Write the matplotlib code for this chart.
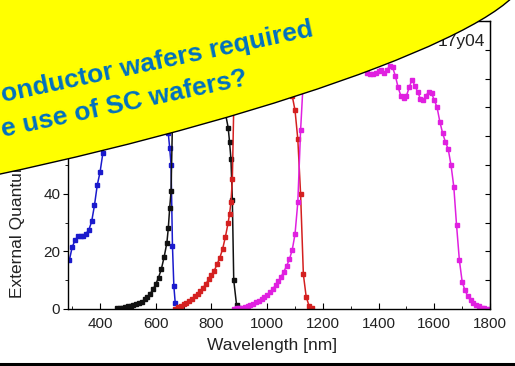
import matplotlib
matplotlib.use("Agg")
import matplotlib.pyplot as plt
from matplotlib.patches import Ellipse
from matplotlib.lines import Line2D
from matplotlib.transforms import IdentityTransform
from matplotlib.ticker import MultipleLocator

# EQE curves of the four sub-cells (wavelength in nm, EQE in %)
blue_wl = [290, 300, 310, 320, 330, 340, 350, 360, 370, 380, 390, 400, 410, 420, 430, 440,
           450, 460, 470, 480, 490, 500, 510, 520, 530, 540, 550, 560, 570, 580, 590, 600,
           610, 620, 630, 640, 645, 650, 655, 660, 665, 670, 680]
blue_eqe = [17, 21.5, 23.8, 25.2, 25.4, 25.2, 26.2, 27.5, 30.4, 36, 43, 47.5, 54, 60, 65, 69,
            72.5, 75, 77.5, 79.5, 81, 82, 83, 84, 84.5, 85, 85.5, 86, 86, 86, 85.5, 85,
            84, 82, 78, 68, 61, 56, 50, 22, 8, 2, 0.3]

black_wl = [460, 470, 480, 490, 500, 510, 520, 530, 540, 550, 560, 570, 580, 590, 600, 610,
            620, 630, 640, 645, 650, 655, 660, 665, 670, 680, 700, 720, 740, 760, 780, 800,
            820, 840, 850, 860, 865, 870, 875, 880, 890, 900]
black_eqe = [0.3, 0.4, 0.5, 0.7, 0.9, 1.1, 1.4, 1.7, 2.1, 2.6, 3.3, 4.2, 5.3, 6.8, 8.6, 10.9,
             13.8, 18, 23, 28, 35, 41, 65, 78, 83, 85, 86, 86, 86, 85, 84, 82,
             78, 72, 68, 63, 58, 52, 38, 10, 1.5, 0.2]

red_wl = [670, 680, 690, 700, 710, 720, 730, 740, 750, 760, 770, 780, 790, 800, 810, 820,
          830, 840, 850, 860, 865, 870, 875, 880, 890, 900, 920, 940, 960, 980, 1000, 1020,
          1040, 1060, 1080, 1090, 1100, 1110, 1120, 1130, 1140, 1150, 1160]
red_eqe = [0, 0.6, 1.1, 1.6, 2.2, 2.9, 3.6, 4.4, 5.3, 6.3, 7.4, 8.7, 10.3, 11.8, 13.3, 15.5,
           17.8, 20.8, 25, 30, 33, 37, 45, 70, 78, 82, 85, 87, 88, 88, 88, 87,
           85, 82, 78, 74, 69, 59, 40, 12, 4.3, 1.2, 0.2]

magenta_wl = [880, 890, 900, 910, 920, 930, 940, 950, 960, 970, 980, 990, 1000, 1010, 1020,
              1030, 1040, 1050, 1060, 1070, 1080, 1090, 1100, 1110, 1120, 1130, 1140, 1160,
              1180, 1200, 1220, 1240, 1260, 1280, 1300, 1320, 1340, 1360, 1370, 1380, 1390,
              1400, 1410, 1420, 1430, 1440, 1450, 1460, 1470, 1480, 1490, 1500, 1510, 1520,
              1530, 1540, 1550, 1560, 1570, 1580, 1590, 1600, 1610, 1620, 1630, 1640, 1650,
              1660, 1670, 1680, 1690, 1700, 1710, 1720, 1730, 1740, 1750, 1760, 1770, 1780,
              1790, 1800]
magenta_eqe = [0.1, 0.2, 0.3, 0.5, 0.7, 1.0, 1.4, 1.8, 2.3, 2.9, 3.5, 4.2, 5.0, 5.9, 7.0,
               8.2, 9.6, 11.2, 13, 15, 17.3, 20.5, 26, 37, 62, 80, 86, 88,
               89, 89, 90, 90, 89, 88, 87, 86, 84, 82, 81.5, 81.5, 82,
               82.5, 83, 82, 83, 84.5, 84, 81, 77, 74, 73.4, 74, 77, 79.6,
               77.5, 75.5, 73, 72.5, 74, 75.5, 75, 72.5, 70, 65, 61, 58, 55.5,
               50, 42.5, 29, 17, 9.5, 6.5, 4.5, 3, 2.2, 1.4, 0.9, 0.5, 0.3,
               0.1, 0]

series = [
    (blue_wl, blue_eqe, "#1a1acc"),
    (black_wl, black_eqe, "#111111"),
    (red_wl, red_eqe, "#d42020"),
    (magenta_wl, magenta_eqe, "#e020e0"),
]

callout_lines = ["onductor wafers required", "e use of SC wafers?"]

plt.rcParams["font.family"] = ["Liberation Sans", "DejaVu Sans"]

fig = plt.figure(figsize=(5.15, 3.66), dpi=100)
ax = fig.add_axes([68 / 515, 57 / 366, 422 / 515, 288 / 366])

for wl, eqe, color in series:
    ax.plot(wl, eqe, "-s", color=color, lw=1.1, ms=2.4, mec=color, mfc=color)

ax.set_xlim(285, 1800)
ax.set_ylim(0, 100)
ax.xaxis.set_major_locator(MultipleLocator(200))
ax.xaxis.set_minor_locator(MultipleLocator(100))
ax.yaxis.set_major_locator(MultipleLocator(20))
ax.yaxis.set_minor_locator(MultipleLocator(10))
ax.tick_params(axis="x", which="major", direction="in", length=4, pad=6, labelsize=11,
               labelcolor="#222222")
ax.tick_params(axis="x", which="minor", direction="in", length=2.5)
ax.tick_params(axis="y", which="major", direction="out", length=3.5, pad=2, labelsize=11,
               labelcolor="#222222")
ax.tick_params(axis="y", which="minor", direction="out", length=2)
sec = ax.secondary_yaxis("right")
sec.yaxis.set_major_locator(MultipleLocator(10))
sec.tick_params(direction="in", length=3.5, labelright=False)
for s in ax.spines.values():
    s.set_linewidth(1.0)
ax.set_xlabel("Wavelength [nm]", fontsize=12.5, color="#222222")
ax.xaxis.set_label_coords(0.483, -0.10)
ax.set_ylabel("External Quantum Efficiency [%]", fontsize=12.5, color="#222222")
ax.yaxis.set_label_coords(-0.102, 0.47)
ax.text(485, 320, "17y04", transform=IdentityTransform(), ha="right", va="baseline",
        fontsize=12.5, color="#222222")

# yellow callout laid over the plot (pixel coordinates, origin bottom-left)
px = IdentityTransform()
fig.add_artist(Ellipse((-23, 277), 1120, 176, angle=12, transform=px,
                       facecolor="#ffff00", edgecolor="black", lw=1.0, zorder=2))
fig.text(314, 330, callout_lines[0], transform=px, rotation=12, rotation_mode="anchor",
         ha="right", va="baseline", fontsize=19, fontweight="bold", color="#0070C0", zorder=5)
fig.text(249, 281, callout_lines[1], transform=px, rotation=12, rotation_mode="anchor",
         ha="right", va="baseline", fontsize=19, fontweight="bold", color="#0070C0", zorder=5)

fig.add_artist(Line2D([0, 1], [2.5 / 366, 2.5 / 366], transform=fig.transFigure,
                      color="black", lw=2.2))

fig.savefig("out.png", dpi=100)
